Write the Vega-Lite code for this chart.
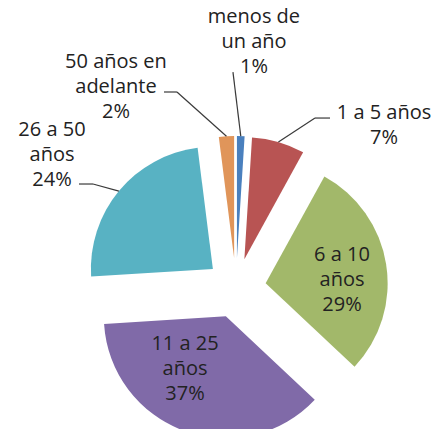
{
  "$schema": "https://vega.github.io/schema/vega-lite/v6.json",
  "width": 437,
  "height": 429,
  "padding": 0,
  "autosize": {"type": "none"},
  "background": "white",
  "config": {
    "view": {"stroke": null},
    "text": {"font": "Open Sans", "fontSize": 20, "color": "#222222", "align": "center", "baseline": "middle", "lineHeight": 25},
    "rule": {"color": "#3a3a3a", "strokeWidth": 1.2}
  },
  "data": {
    "values": [
      {"rango": "menos de un año", "pct": 1, "orden": 1},
      {"rango": "1 a 5 años", "pct": 7, "orden": 2},
      {"rango": "6 a 10 años", "pct": 29, "orden": 3},
      {"rango": "11 a 25 años", "pct": 37, "orden": 4},
      {"rango": "26 a 50 años", "pct": 24, "orden": 5},
      {"rango": "50 años en adelante", "pct": 2, "orden": 6}
    ]
  },
  "transform": [
    {"window": [{"op": "sum", "field": "pct", "as": "cum"}], "sort": [{"field": "orden"}], "frame": [null, 0]},
    {"calculate": "datum.cum - datum.pct", "as": "start"},
    {"calculate": "(datum.start + datum.pct / 2) / 100 * 2 * PI", "as": "mid"},
    {"calculate": "30 * sin(datum.mid)", "as": "ex"},
    {"calculate": "30 * cos(datum.mid)", "as": "ey"},
    {"calculate": "152 * sin(datum.mid)", "as": "ax"},
    {"calculate": "152 * cos(datum.mid)", "as": "ay"},
    {"calculate": "length(datum.rango) <= 10 ? [datum.rango, datum.pct + '%'] : [substring(datum.rango, 0, lastindexof(substring(datum.rango, 0, 11), ' ')), substring(datum.rango, lastindexof(substring(datum.rango, 0, 11), ' ') + 1), datum.pct + '%']", "as": "lab"}
  ],
  "layer": [
    {
      "mark": {"type": "arc", "radius": 122},
      "encoding": {
        "theta": {"field": "start", "type": "quantitative", "scale": {"domain": [0, 100]}, "stack": null},
        "theta2": {"field": "cum"},
        "x": {"field": "ex", "type": "quantitative", "scale": {"domain": [-236, 201], "nice": false, "zero": false}, "axis": null},
        "y": {"field": "ey", "type": "quantitative", "scale": {"domain": [-141, 288], "nice": false, "zero": false}, "axis": null},
        "color": {
          "field": "rango", "type": "nominal", "legend": null,
          "scale": {
            "domain": ["menos de un año", "1 a 5 años", "6 a 10 años", "11 a 25 años", "26 a 50 años", "50 años en adelante"],
            "range": ["#4a80be", "#b85453", "#a2b86a", "#806aa8", "#58b2c3", "#e0955a"]
          }
        }
      }
    },
    {
      "transform": [{"filter": {"field": "orden", "equal": 1}}],
      "mark": {"type": "rule", "x2Offset": -7.8, "y2Offset": -64},
      "encoding": {"x": {"field": "ax", "type": "quantitative"}, "y": {"field": "ay", "type": "quantitative"}, "x2": {"field": "ax"}, "y2": {"field": "ay"}}
    },
    {
      "transform": [{"filter": {"field": "orden", "equal": 2}}],
      "mark": {"type": "rule", "x2Offset": 36.6, "y2Offset": -24},
      "encoding": {"x": {"field": "ax", "type": "quantitative"}, "y": {"field": "ay", "type": "quantitative"}, "x2": {"field": "ax"}, "y2": {"field": "ay"}}
    },
    {
      "transform": [{"filter": {"field": "orden", "equal": 2}}],
      "mark": {"type": "rule", "xOffset": 36.6, "yOffset": -24, "x2Offset": 51.6, "y2Offset": -24},
      "encoding": {"x": {"field": "ax", "type": "quantitative"}, "y": {"field": "ay", "type": "quantitative"}, "x2": {"field": "ax"}, "y2": {"field": "ay"}}
    },
    {
      "transform": [{"filter": {"field": "orden", "equal": 6}}],
      "mark": {"type": "rule", "x2Offset": -49.5, "y2Offset": -44.3},
      "encoding": {"x": {"field": "ax", "type": "quantitative"}, "y": {"field": "ay", "type": "quantitative"}, "x2": {"field": "ax"}, "y2": {"field": "ay"}}
    },
    {
      "transform": [{"filter": {"field": "orden", "equal": 6}}],
      "mark": {"type": "rule", "xOffset": -49.5, "yOffset": -44.3, "x2Offset": -62.5, "y2Offset": -44.3},
      "encoding": {"x": {"field": "ax", "type": "quantitative"}, "y": {"field": "ay", "type": "quantitative"}, "x2": {"field": "ax"}, "y2": {"field": "ay"}}
    },
    {
      "transform": [{"filter": {"field": "orden", "equal": 5}}],
      "mark": {"type": "rule", "x2Offset": -25.9, "y2Offset": -7.1},
      "encoding": {"x": {"field": "ax", "type": "quantitative"}, "y": {"field": "ay", "type": "quantitative"}, "x2": {"field": "ax"}, "y2": {"field": "ay"}}
    },
    {
      "transform": [{"filter": {"field": "orden", "equal": 5}}],
      "mark": {"type": "rule", "xOffset": -25.9, "yOffset": -7.1, "x2Offset": -39.9, "y2Offset": -7.1},
      "encoding": {"x": {"field": "ax", "type": "quantitative"}, "y": {"field": "ay", "type": "quantitative"}, "x2": {"field": "ax"}, "y2": {"field": "ay"}}
    },
    {
      "transform": [{"filter": {"field": "orden", "equal": 1}}],
      "mark": {"type": "text", "dx": 13.2, "dy": -119.1},
      "encoding": {"x": {"field": "ax", "type": "quantitative"}, "y": {"field": "ay", "type": "quantitative"}, "text": {"field": "lab", "type": "nominal"}}
    },
    {
      "transform": [{"filter": {"field": "orden", "equal": 2}}],
      "mark": {"type": "text", "dx": 105.6, "dy": -29},
      "encoding": {"x": {"field": "ax", "type": "quantitative"}, "y": {"field": "ay", "type": "quantitative"}, "text": {"field": "lab", "type": "nominal"}}
    },
    {
      "transform": [{"filter": {"field": "orden", "equal": 6}}],
      "mark": {"type": "text", "dx": -110.5, "dy": -74.3},
      "encoding": {"x": {"field": "ax", "type": "quantitative"}, "y": {"field": "ay", "type": "quantitative"}, "text": {"field": "lab", "type": "nominal"}}
    },
    {
      "transform": [{"filter": {"field": "orden", "equal": 5}}],
      "mark": {"type": "text", "dx": -66.9, "dy": -61.6},
      "encoding": {"x": {"field": "ax", "type": "quantitative"}, "y": {"field": "ay", "type": "quantitative"}, "text": {"field": "lab", "type": "nominal"}}
    },
    {
      "transform": [{"filter": {"field": "orden", "equal": 3}}],
      "mark": {"type": "text", "dx": 76.4, "dy": -28.8},
      "encoding": {"x": {"field": "ex", "type": "quantitative"}, "y": {"field": "ey", "type": "quantitative"}, "text": {"field": "lab", "type": "nominal"}}
    },
    {
      "transform": [{"filter": {"field": "orden", "equal": 4}}],
      "mark": {"type": "text", "dx": -40.8, "dy": 27.5},
      "encoding": {"x": {"field": "ex", "type": "quantitative"}, "y": {"field": "ey", "type": "quantitative"}, "text": {"field": "lab", "type": "nominal"}}
    }
  ]
}
